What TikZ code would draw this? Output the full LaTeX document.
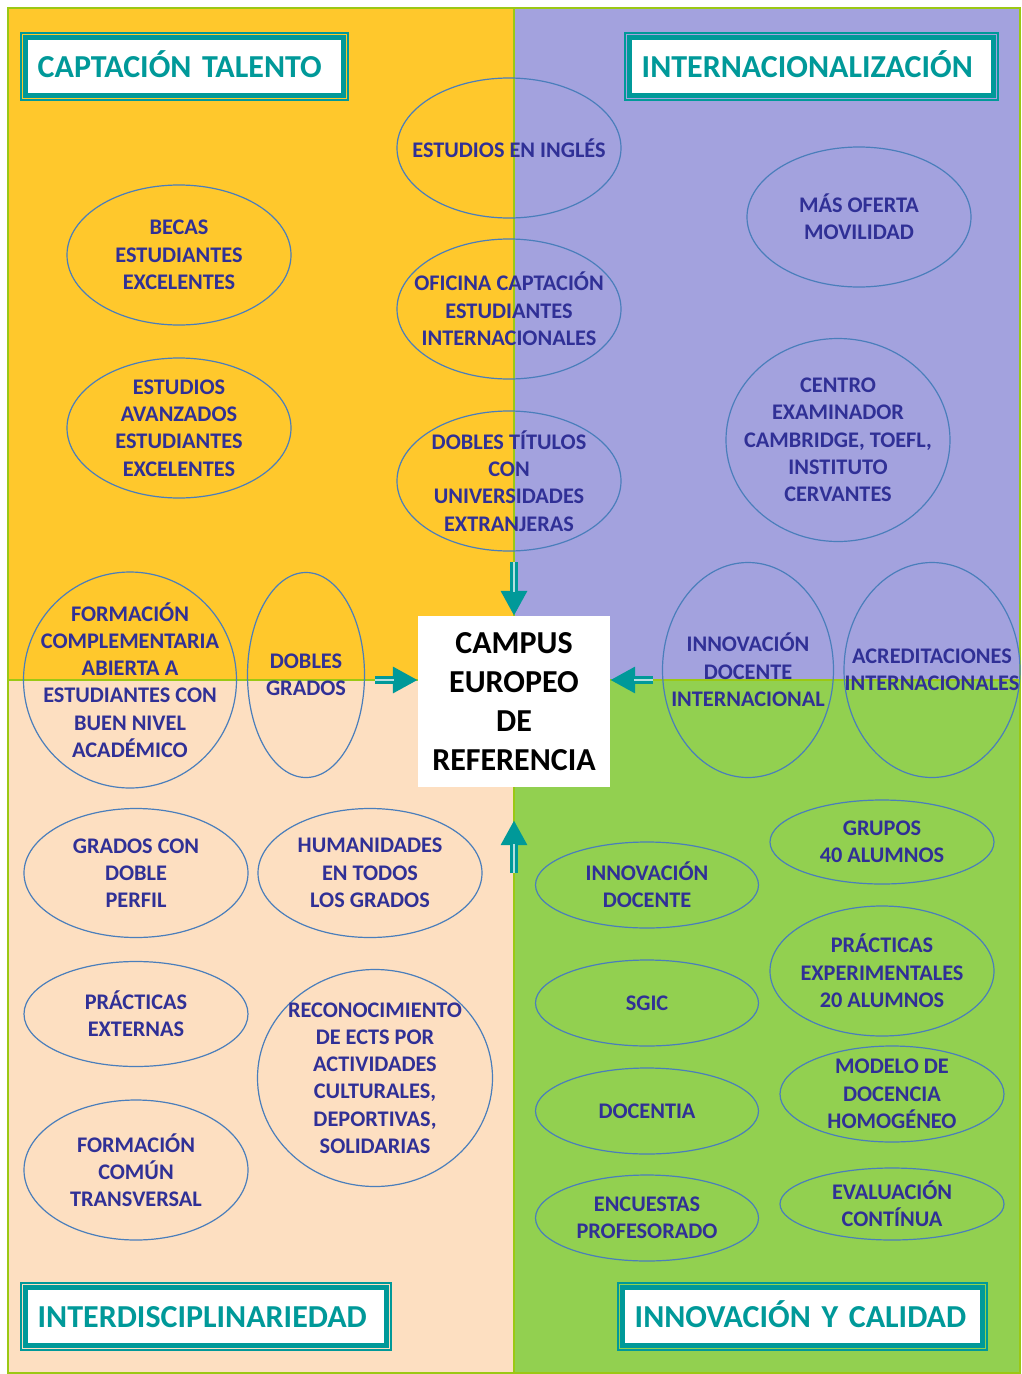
\documentclass[tikz,border=0pt]{standalone}
\usepackage{fontspec}
\setmainfont{Carlito}
\usetikzlibrary{arrows.meta,shapes.geometric}

\definecolor{sunyellow}{RGB}{255,200,44}
\definecolor{lavender}{RGB}{163,162,222}
\definecolor{peach}{RGB}{253,223,193}
\definecolor{leafgreen}{RGB}{146,208,80}
\definecolor{tealc}{RGB}{0,153,153}
\definecolor{limeline}{RGB}{155,200,20}
\definecolor{rimblue}{RGB}{74,126,187}
\definecolor{inkblue}{RGB}{48,48,150}

\begin{document}
\begin{tikzpicture}[x=1pt,y=-1pt]
	\tikzstyle{bubble}=[ellipse,draw=rimblue,line width=1.2pt,inner sep=0pt]
	\tikzstyle{txt}=[text=inkblue,font=\bfseries\fontsize{22.3}{27.3}\selectfont,align=center,inner sep=0pt]
	\tikzstyle{headbox}=[rectangle,draw=tealc,line width=4.7pt,fill=white,outer sep=0pt,
				minimum height=57.6,inner xsep=12pt,inner ysep=0pt,align=left,text=tealc,
				text height=21.5pt,text depth=0pt,
				font={\bfseries\fontsize{32}{36}\selectfont\spaceskip=3pt}]
	\tikzstyle{rim}=[draw=tealc,line width=1.5pt]
	\tikzstyle{feed}=[draw=tealc,line width=8pt,-{Triangle[width=25pt,length=25pt]},
				postaction={draw=tealc!30!white,line width=1.2pt,-,shorten >=24pt}]

	\useasboundingbox (0,0) rectangle (1021,1374);
	\fill[white] (0,0) rectangle (1021,1374);

	% quadrants
	\fill[sunyellow] (8,8) rectangle (514,680);
	\fill[lavender] (514,8) rectangle (1020,680);
	\fill[peach] (8,680) rectangle (514,1373);
	\fill[leafgreen] (514,680) rectangle (1020,1373);
	\draw[limeline,line width=1.8pt] (514,8) -- (514,1373);
	\draw[limeline,line width=1.8pt] (8,680) -- (1020,680);
	\draw[limeline,line width=1.5pt] (8,8) rectangle (1020,1373);

	% captacion talento
	\node[bubble,minimum width=224,minimum height=140,label={[txt]center:{BECAS\\ESTUDIANTES\\EXCELENTES}}] (becas) at (179,255) {};
	\node[bubble,minimum width=224,minimum height=140,label={[txt]center:{ESTUDIOS\\AVANZADOS\\ESTUDIANTES\\EXCELENTES}}] (avanzados) at (179,428) {};
	\node[bubble,minimum width=224,minimum height=140,label={[txt]center:{ESTUDIOS EN INGLÉS}}] (ingles) at (509,148) {};
	\node[bubble,minimum width=224,minimum height=140,label={[txt]center:{OFICINA CAPTACIÓN\\ESTUDIANTES\\INTERNACIONALES}}] (oficina) at (509,309) {};
	\node[bubble,minimum width=224,minimum height=140,label={[txt]center:{DOBLES TÍTULOS\\CON\\UNIVERSIDADES\\EXTRANJERAS}}] (dobtit) at (509,481) {};
	\node[bubble,minimum width=213,minimum height=216,label={[txt]center:{FORMACIÓN\\COMPLEMENTARIA\\ABIERTA A\\ESTUDIANTES CON\\BUEN NIVEL\\ACADÉMICO}}] (formcomp) at (130,680) {};
	\node[bubble,minimum width=117,minimum height=205,label={[txt]center:{DOBLES\\GRADOS}}] (dobgr) at (306,675) {};

	% internacionalizacion
	\node[bubble,minimum width=224,minimum height=140,label={[txt]center:{MÁS OFERTA\\MOVILIDAD}}] (movilidad) at (859,217) {};
	\node[bubble,minimum width=224,minimum height=203,label={[txt]center:{CENTRO\\EXAMINADOR\\CAMBRIDGE, TOEFL,\\INSTITUTO\\CERVANTES}}] (centro) at (838,440) {};
	\node[bubble,minimum width=171,minimum height=215,label={[txt]center:{INNOVACIÓN\\DOCENTE\\INTERNACIONAL}}] (innoint) at (748,670) {};
	\node[bubble,minimum width=176,minimum height=215,label={[txt]center:{ACREDITACIONES\\INTERNACIONALES}}] (acred) at (932,670) {};

	% interdisciplinariedad
	\node[bubble,minimum width=224,minimum height=129,label={[txt]center:{GRADOS CON\\DOBLE\\PERFIL}}] (gradoscon) at (136,873) {};
	\node[bubble,minimum width=224,minimum height=129,label={[txt]center:{HUMANIDADES\\EN TODOS\\LOS GRADOS}}] (humanid) at (370,873) {};
	\node[bubble,minimum width=224,minimum height=105,label={[txt]center:{PRÁCTICAS\\EXTERNAS}}] (practext) at (136,1014) {};
	\node[bubble,minimum width=235,minimum height=217,label={[txt]center:{RECONOCIMIENTO\\DE ECTS POR\\ACTIVIDADES\\CULTURALES,\\DEPORTIVAS,\\SOLIDARIAS}}] (ects) at (375,1078) {};
	\node[bubble,minimum width=224,minimum height=140,label={[txt]center:{FORMACIÓN\\COMÚN\\TRANSVERSAL}}] (formcom) at (136,1170) {};

	% innovacion y calidad
	\node[bubble,minimum width=223,minimum height=86,label={[txt]center:{INNOVACIÓN\\DOCENTE}}] (innodoc) at (647,885) {};
	\node[bubble,minimum width=224,minimum height=84,label={[txt]center:{GRUPOS\\40 ALUMNOS}}] (grupos) at (882,842) {};
	\node[bubble,minimum width=224,minimum height=130,label={[txt]center:{PRÁCTICAS\\EXPERIMENTALES\\20 ALUMNOS}}] (practexp) at (882,971) {};
	\node[bubble,minimum width=223,minimum height=86,label={[txt]center:{SGIC}}] (sgic) at (647,1003) {};
	\node[bubble,minimum width=223,minimum height=86,label={[txt]center:{DOCENTIA}}] (docentia) at (647,1111) {};
	\node[bubble,minimum width=224,minimum height=96,label={[txt]center:{MODELO DE\\DOCENCIA\\HOMOGÉNEO}}] (modelo) at (892,1094) {};
	\node[bubble,minimum width=223,minimum height=86,label={[txt]center:{ENCUESTAS\\PROFESORADO}}] (encuestas) at (647,1218) {};
	\node[bubble,minimum width=224,minimum height=72,label={[txt]center:{EVALUACIÓN\\CONTÍNUA}}] (evaluacion) at (892,1204) {};

	% headings
	\node[headbox,text width=293.6] (captacion) at (184.5,66.5) {CAPTACIÓN TALENTO};
	\node[headbox,text width=339.6] (internac) at (811.5,66.5) {INTERNACIONALIZACIÓN};
	\node[headbox,text width=336.6] (interdisc) at (206,1316.5) {INTERDISCIPLINARIEDAD};
	\node[headbox,text width=335.6] (innocal) at (802.5,1316.5) {INNOVACIÓN Y CALIDAD};
	\draw[rim] ([shift={(-4.7,-4.7)}]captacion.north west) rectangle ([shift={(4.7,4.7)}]captacion.south east);
	\draw[rim] ([shift={(-4.7,-4.7)}]internac.north west) rectangle ([shift={(4.7,4.7)}]internac.south east);
	\draw[rim] ([shift={(-4.7,-4.7)}]interdisc.north west) rectangle ([shift={(4.7,4.7)}]interdisc.south east);
	\draw[rim] ([shift={(-4.7,-4.7)}]innocal.north west) rectangle ([shift={(4.7,4.7)}]innocal.south east);

	% centre
	\node[fill=white,minimum width=192,minimum height=171,align=center,
		font=\bfseries\fontsize{32}{39}\selectfont] (campus) at (514,701.5) {CAMPUS\\EUROPEO\\DE\\REFERENCIA};

	\coordinate (tailN) at (514,562);
	\coordinate (tailW) at (375,680);
	\coordinate (tailE) at (653,680);
	\coordinate (tailS) at (514,873);
	\draw[feed] (tailN) -- (campus.north);
	\draw[feed] (tailW) -- (tailW -| campus.west);
	\draw[feed] (tailE) -- (tailE -| campus.east);
	\draw[feed] (tailS) -- ([yshift=-33pt]campus.south);
	%\draw[feed] (dobtit) -- (campus);
\end{tikzpicture}
\end{document}
